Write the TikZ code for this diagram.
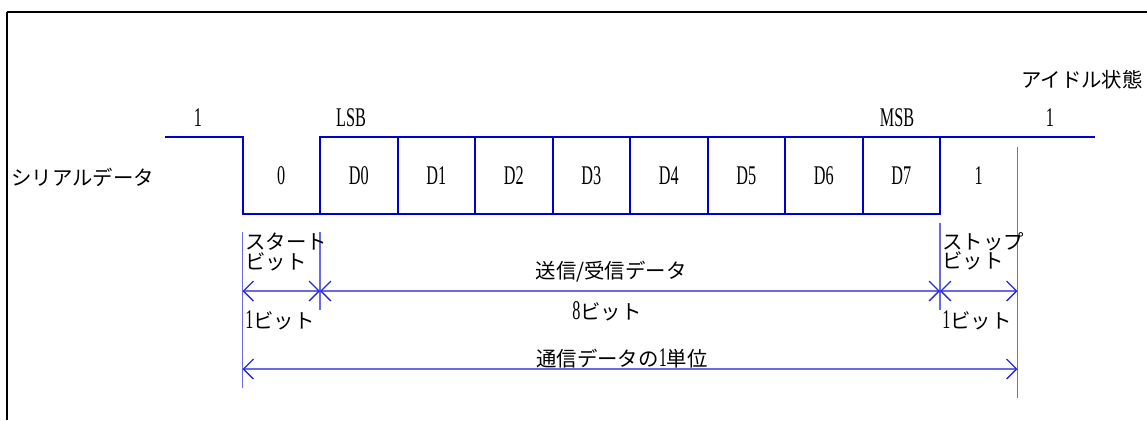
\documentclass[tikz,border=0pt]{standalone}
\usepackage{fontspec}
\setmainfont{Liberation Serif}[FakeStretch=0.6]
\newfontfamily\jpfont{Noto Sans CJK JP}
\usepackage{xcolor}
\usepackage{tikz}
\definecolor{sig-line}{HTML}{0000CC}
\definecolor{dim-line}{HTML}{6A6AE6}
\definecolor{dim-tip}{HTML}{2A2AD8}
\usetikzlibrary{positioning,arrows.meta}

\newcommand{\lat}[1]{{\rmfamily\fontsize{13.5}{14}\selectfont #1}}

\begin{document}
\begin{tikzpicture}[x=0.5pt,y=-0.5pt,
  >={Straight Barb[length=5pt,width=10pt,color=dim-tip]},
  node distance=0pt,
  bitbox/.style={draw=sig-line,line width=1pt,outer sep=0pt,inner sep=0pt,
    minimum width=38.75pt,minimum height=38.5pt,font=\fontsize{13.5}{15}\selectfont},
  lbl/.style={inner sep=0pt,font=\fontsize{13.5}{15}\selectfont},
  jp/.style={inner sep=0pt,font=\jpfont\fontsize{10.2}{9.6}\selectfont},
  sig/.style={draw=sig-line,line width=1pt},
  dim-l/.style={draw=dim-line,line width=0.65pt},
  frame-l/.style={draw=black,line width=0.7pt}]
\useasboundingbox (0,0) rectangle (1147,420);
\draw[frame-l] (7,12) -- (1147,12);
\draw[frame-l,line width=1pt] (7,420) -- (7,12);

% data bits
\node[bitbox] (d0) at (358.75,175.5) {D0};
\node[bitbox,right=of d0] (d1) {D1};
\node[bitbox,right=of d1] (d2) {D2};
\node[bitbox,right=of d2] (d3) {D3};
\node[bitbox,right=of d3] (d4) {D4};
\node[bitbox,right=of d4] (d5) {D5};
\node[bitbox,right=of d5] (d6) {D6};
\node[bitbox,right=of d6] (d7) {D7};
\node[bitbox,draw=none,left=of d0] (st) {0};
\node[bitbox,draw=none,right=of d7] (sp) {1};

\path
(165,137)    coordinate (idle-a)
(1095,137)   coordinate (idle-b)
(242.5,291)  coordinate (m0)
(320,291)    coordinate (m1)
(940,291)    coordinate (m9)
(1017.5,291) coordinate (m10)
(242.5,369)  coordinate (u0)
(1017.5,369) coordinate (u10);

\draw[sig] (idle-a) -- (st.north west) -- (st.south west) -- (d0.south west);
\draw[sig] (d7.north east) -- (idle-b);

\node[lbl] (one-l) at (198,118) {1};
\node[lbl] (lsb) at (351,118) {LSB};
\node[lbl] (msb) at (897,118) {MSB};
\node[lbl] (one-r) at (1050,118) {1};
\node[jp,anchor=east] (idle) at (1143,80) {アイドル状態};
\node[jp,anchor=west] (serial) at (11,177) {シリアルデータ};

% dimensions
\draw[dim-l] ([yshift=-9pt]st.south west) -- (u0) -- +(0,19);
\draw[dim-l] ([yshift=-9pt]d0.south west) -- +(0,78);
\draw[dim-l] ([yshift=-4.5pt]d7.south east) -- +(0,87);
\draw[dim-l] ([yshift=-5pt]sp.north east) -- +(0,251);
\draw[dim-l,<->] (m0) -- (m1);
\draw[dim-l,<->] (m1) -- (m9);
\draw[dim-l,<->] (m9) -- (m10);
\draw[dim-l,<->] (u0) -- (u10);

\node[jp,anchor=west,align=left] (st-lbl) at (245,252) {スタート\\ビット};
\node[jp,anchor=west,align=left] (sp-lbl) at (942,251) {ストップ\\ビット};
\node[jp,anchor=west] (one-bit-l) at (245,320) {\lat{1}ビット};
\node[jp,anchor=west] (one-bit-r) at (942,320) {\lat{1}ビット};
\node[jp] (data) at (611,272) {送信/受信データ};
\node[jp] (eight) at (607,311) {\lat{8}ビット};
\node[jp] (unit) at (622,358) {通信データの\lat{1}単位};
\end{tikzpicture}
\end{document}
